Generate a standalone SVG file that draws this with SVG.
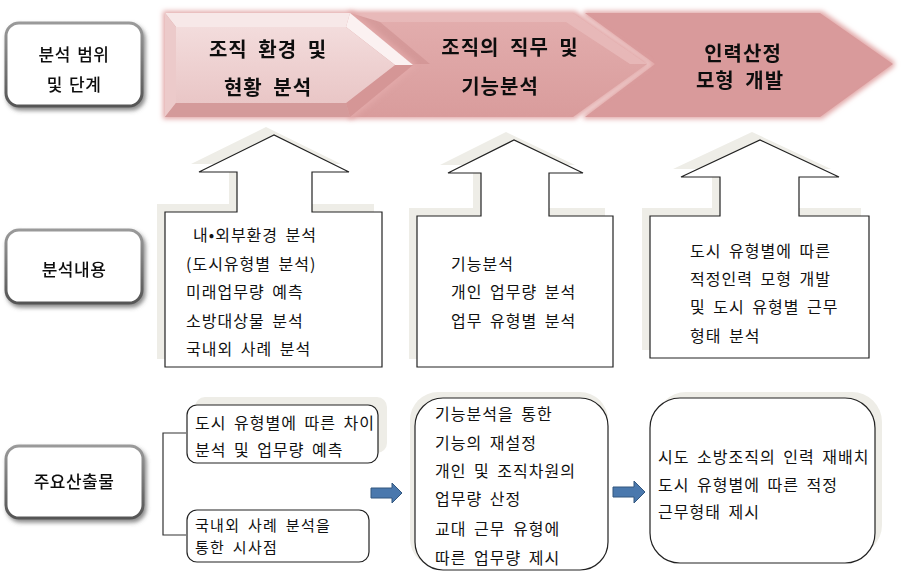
<svg xmlns="http://www.w3.org/2000/svg" width="901" height="572" viewBox="0 0 901 572">
<style>
  text { font-family: "Noto Sans CJK KR", "Noto Sans", sans-serif; fill: #111; }
  .lbl { font-size: 17px; text-anchor: middle; font-weight: 500; letter-spacing: 0.5px; word-spacing: 2px; }
  .chev { font-size: 20px; font-weight: bold; text-anchor: middle; letter-spacing: 1px; word-spacing: 5px; }
  .t { font-size: 16px; letter-spacing: 1px; word-spacing: 3px; }
  .ts { font-size: 15px; letter-spacing: 1.3px; word-spacing: 3px; }
  .box { fill: #fff; stroke: #222; stroke-width: 1.2; }
  .shadow { fill: #eeede7; }
  .lblbox { fill: #fff; stroke: url(#gBorder); stroke-width: 3; }
  .blue { fill: #4a78ad; stroke: #33577f; stroke-width: 1; }
  .line { fill: none; stroke: #333; stroke-width: 1.2; }
</style>
<defs>
  <linearGradient id="gBorder" x1="0" y1="0" x2="0" y2="1">
    <stop offset="0" stop-color="#9a9a9a"/>
    <stop offset="1" stop-color="#555"/>
  </linearGradient>
  <linearGradient id="gC1" x1="0" y1="0" x2="0" y2="1">
    <stop offset="0" stop-color="#f3dcdc"/>
    <stop offset="1" stop-color="#e9c6c6"/>
  </linearGradient>
  <linearGradient id="gC2" x1="0" y1="0" x2="0" y2="1">
    <stop offset="0" stop-color="#e3aeae"/>
    <stop offset="1" stop-color="#d99c9c"/>
  </linearGradient>
  <filter id="glow" x="-10%" y="-20%" width="120%" height="140%">
    <feMorphology in="SourceAlpha" operator="dilate" radius="2" result="d"/>
    <feGaussianBlur in="d" stdDeviation="2.5" result="b"/>
    <feFlood flood-color="#e2a8a8"/>
    <feComposite in2="b" operator="in" result="g"/>
    <feMerge><feMergeNode in="g"/><feMergeNode in="SourceGraphic"/></feMerge>
  </filter>
  <filter id="lblShadow" x="-10%" y="-10%" width="125%" height="130%">
    <feGaussianBlur in="SourceAlpha" stdDeviation="2"/>
    <feOffset dx="2" dy="3" result="o"/>
    <feFlood flood-color="#555" flood-opacity="0.7"/>
    <feComposite in2="o" operator="in" result="s"/>
    <feMerge><feMergeNode in="s"/><feMergeNode in="SourceGraphic"/></feMerge>
  </filter>
</defs>

<!-- Row labels -->
<g id="label-scope" filter="url(#lblShadow)">
  <rect class="lblbox" x="6" y="23" width="136" height="83" rx="13"/>
  <text class="lbl" x="74" y="61">분석 범위</text>
  <text class="lbl" x="74" y="91">및 단계</text>
</g>
<g id="label-content" filter="url(#lblShadow)">
  <rect class="lblbox" x="6" y="230" width="136" height="73" rx="13"/>
  <text class="lbl" x="74" y="276">분석내용</text>
</g>
<g id="label-output" filter="url(#lblShadow)">
  <rect class="lblbox" x="6" y="446" width="137" height="72" rx="13"/>
  <text class="lbl" x="74" y="488">주요산출물</text>
</g>

<!-- Chevrons -->
<g id="stage3" filter="url(#glow)">
  <polygon points="585,13 820,13 893,64 820,117 585,117 655,64" fill="#d99a9b"/>
  <text class="chev" x="743" y="61">인력산정</text>
  <text class="chev" x="740" y="88">모형 개발</text>
</g>
<g id="stage2" filter="url(#glow)">
  <polygon points="350,13 573,13 647,64 573,117 350,117 412,64" fill="url(#gC2)"/>
  <polygon points="350,13 573,13 647,64 630,64 566,22 380,22" fill="#e9bcbc" opacity="0.8"/>
  <polygon points="412,64 350,13 380,22 430,64" fill="#c98a8a" opacity="0.5"/>
  <text class="chev" x="510" y="55">조직의 직무 및</text>
  <text class="chev" x="500" y="94">기능분석</text>
</g>
<g id="stage1" filter="url(#glow)">
  <polygon points="165,13 350,13 413,65 350,117 165,117" fill="#dba4a4"/>
  <polygon points="165,13 350,13 346,27 176,27" fill="#f7e8e8"/>
  <polygon points="165,13 176,27 176,103 165,117" fill="#eccaca"/>
  <polygon points="350,13 413,65 395,65 346,27" fill="#fbf1f1"/>
  <polygon points="413,65 350,117 346,103 395,65" fill="#d59696"/>
  <polygon points="165,117 176,103 346,103 350,117" fill="#d49a9a"/>
  <polygon points="176,27 346,27 395,65 346,103 176,103" fill="url(#gC1)"/>
  <text class="chev" x="268" y="57">조직 환경 및</text>
  <text class="chev" x="268" y="95">현황 분석</text>
</g>

<!-- Analysis content (up-arrow callouts) -->
<g id="content1">
  <path class="shadow" transform="translate(-8,-8)" d="M165,212 H237 V172 H199 L274,135 L349,172 H312 V212 H382 V367 H165 Z"/>
  <path class="box" d="M165,212 H237 V172 H199 L274,135 L349,172 H312 V212 H382 V367 H165 Z"/>
  <text class="t" x="193" y="241">내•외부환경 분석</text>
  <text class="t" x="186" y="270">(도시유형별 분석)</text>
  <text class="t" x="186" y="298">미래업무량 예측</text>
  <text class="t" x="186" y="327">소방대상물 분석</text>
  <text class="t" x="186" y="355">국내외 사례 분석</text>
</g>
<g id="content2">
  <path class="shadow" transform="translate(-8,-8)" d="M417,216 H481 V173 H448 L514,140 L583,173 H549 V216 H613 V367 H417 Z"/>
  <path class="box" d="M417,216 H481 V173 H448 L514,140 L583,173 H549 V216 H613 V367 H417 Z"/>
  <text class="t" x="451" y="270">기능분석</text>
  <text class="t" x="451" y="298">개인 업무량 분석</text>
  <text class="t" x="451" y="327">업무 유형별 분석</text>
</g>
<g id="content3">
  <path class="shadow" transform="translate(-8,-8)" d="M650,216 H720 V177 H681 L760,140 L839,177 H799 V216 H869 V358 H650 Z"/>
  <path class="box" d="M650,216 H720 V177 H681 L760,140 L839,177 H799 V216 H869 V358 H650 Z"/>
  <text class="t" x="690" y="257">도시 유형별에 따른</text>
  <text class="t" x="690" y="285">적정인력 모형 개발</text>
  <text class="t" x="690" y="313">및 도시 유형별 근무</text>
  <text class="t" x="690" y="342">형태 분석</text>
</g>

<!-- Outputs -->
<g id="out-a">
  <rect class="shadow" x="195" y="397" width="192" height="56" rx="10"/>
  <rect class="box" x="187" y="405" width="191" height="58" rx="10"/>
  <text class="t" x="195" y="429">도시 유형별에 따른 차이</text>
  <text class="t" x="195" y="456">분석 및 업무량 예측</text>
</g>
<g id="out-b">
  <rect class="box" x="187" y="510" width="182" height="52" rx="10"/>
  <text class="ts" x="195" y="531">국내외 사례 분석을</text>
  <text class="ts" x="195" y="553">통한 시사점</text>
</g>
<g id="out-c">
  <rect class="shadow" x="410" y="392" width="198" height="175" rx="28"/>
  <rect class="box" x="415" y="398" width="193" height="172" rx="28"/>
  <text class="t" x="435" y="420">기능분석을 통한</text>
  <text class="t" x="435" y="449">기능의 재설정</text>
  <text class="t" x="435" y="477">개인 및 조직차원의</text>
  <text class="t" x="435" y="505">업무량 산정</text>
  <text class="t" x="435" y="535">교대 근무 유형에</text>
  <text class="t" x="435" y="564">따른 업무량 제시</text>
</g>
<g id="out-d">
  <rect class="shadow" x="656" y="392" width="226" height="163" rx="30"/>
  <rect class="box" x="650" y="398" width="225" height="165" rx="30"/>
  <text class="t" x="658" y="463">시도 소방조직의 인력 재배치</text>
  <text class="t" x="658" y="491">도시 유형별에 따른 적정</text>
  <text class="t" x="658" y="518">근무형태 제시</text>
</g>

<!-- Connectors -->
<g id="connectors">
  <path class="line" d="M186,433 H163 V535 H186"/>
  <path class="blue" d="M371,488 H392 V483 L402,493 L392,503 V498 H371 Z"/>
  <path class="blue" d="M613,487 H634 V481 L645,492 L634,503 V497 H613 Z"/>
</g>
</svg>
